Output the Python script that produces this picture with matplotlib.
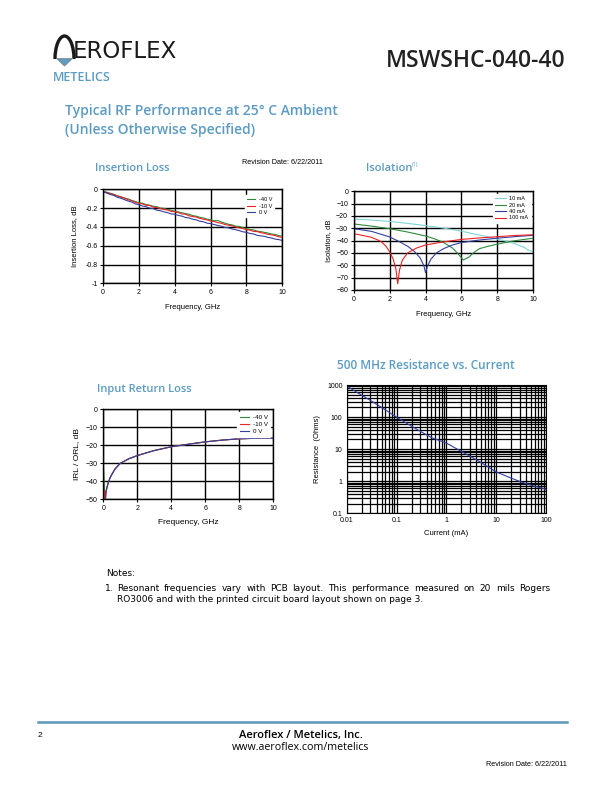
import matplotlib
matplotlib.use("Agg")
import matplotlib.pyplot as plt
from matplotlib.patches import Polygon, Arc
from matplotlib.ticker import NullFormatter

# ---- data ----
il_freq = [i * 0.2 for i in range(51)]
il_m40 = [-0.02, -0.03, -0.042, -0.052, -0.07, -0.078, -0.095, -0.102, -0.118, -0.13,
          -0.142, -0.148, -0.162, -0.168, -0.18, -0.185, -0.2, -0.203, -0.215, -0.222,
          -0.232, -0.24, -0.25, -0.258, -0.265, -0.28, -0.286, -0.298, -0.305, -0.318,
          -0.322, -0.335, -0.332, -0.348, -0.36, -0.372, -0.378, -0.392, -0.395, -0.408,
          -0.418, -0.428, -0.432, -0.445, -0.45, -0.458, -0.465, -0.475, -0.48, -0.492, -0.5]
il_m10 = [-0.025, -0.035, -0.045, -0.06, -0.068, -0.085, -0.092, -0.112, -0.12, -0.138,
          -0.15, -0.155, -0.17, -0.172, -0.19, -0.195, -0.205, -0.215, -0.22, -0.235,
          -0.24, -0.248, -0.262, -0.265, -0.282, -0.29, -0.295, -0.31, -0.318, -0.325,
          -0.338, -0.342, -0.355, -0.36, -0.375, -0.382, -0.39, -0.4, -0.41, -0.418,
          -0.43, -0.435, -0.448, -0.45, -0.462, -0.468, -0.48, -0.485, -0.492, -0.505, -0.51]
il_0v = [-0.025, -0.04, -0.055, -0.065, -0.085, -0.095, -0.11, -0.125, -0.135, -0.155,
         -0.165, -0.178, -0.185, -0.2, -0.205, -0.222, -0.228, -0.24, -0.248, -0.262,
         -0.265, -0.278, -0.285, -0.3, -0.305, -0.318, -0.325, -0.34, -0.345, -0.36,
         -0.365, -0.375, -0.385, -0.392, -0.405, -0.41, -0.422, -0.43, -0.44, -0.452,
         -0.458, -0.47, -0.475, -0.49, -0.495, -0.5, -0.512, -0.518, -0.53, -0.535, -0.545]

iso_f10 = [0, 1, 2, 3, 4, 5, 6, 7, 7.5, 8, 8.5, 9, 9.3, 9.5, 9.7, 10]
iso_10ma = [-22.5, -23.3, -24.4, -26, -27.8, -29.8, -32.3, -35.5, -37, -38.8, -40.5, -42.5,
            -44.5, -45.5, -47.5, -49]
iso_f20 = [0, 1, 2, 3, 4, 4.5, 5, 5.5, 5.8, 6.1, 6.4, 6.7, 7, 7.5, 8, 9, 10]
iso_20ma = [-26.5, -28.2, -30.3, -33, -36.2, -38.5, -41.5, -46, -50.5, -55.7, -53.5, -49.5,
            -46.5, -44.5, -42.8, -40, -38]
iso_f40 = [0, 1, 2, 2.5, 3, 3.4, 3.7, 3.9, 4.0, 4.1, 4.3, 4.6, 5, 5.5, 6, 7, 8, 9, 10]
iso_40ma = [-30.3, -32.5, -37, -40.5, -44.5, -49, -54, -60, -66, -61, -55, -50, -46.5, -43.5,
            -41.5, -39.5, -38, -36.7, -35.7]
iso_f100 = [0, 1, 1.5, 1.8, 2.0, 2.2, 2.35, 2.45, 2.55, 2.7, 3.0, 3.5, 4, 5, 6, 7, 8, 9, 10]
iso_100ma = [-34.3, -37.3, -40.5, -44.5, -49, -55, -63, -75, -64, -56, -50, -46, -43.5, -41,
             -39, -37.8, -36.8, -35.8, -35.2]

irl_f_m40 = [0.02, 0.05, 0.09, 0.12, 0.2, 0.3, 0.4, 0.5, 0.7, 1.0, 1.5, 2, 3, 4, 5, 6, 7, 8, 9, 10]
irl_m40 = [-33.5, -40, -47, -46.5, -44, -40.5, -38, -36.2, -33, -30, -27.5, -25.7, -22.9,
           -20.8, -19.4, -18.1, -17.1, -16.4, -16.1, -16]
irl_f_m10 = [0.04, 0.07, 0.1, 0.15, 0.2, 0.3, 0.4, 0.5, 0.7, 1.0, 1.5, 2, 3, 4, 5, 6, 7, 8, 9, 10]
irl_m10 = [-52, -45, -52, -46.5, -44, -40.5, -38, -36.2, -33, -30, -27.5, -25.7, -22.9,
           -20.8, -19.4, -18.1, -17.1, -16.4, -16.1, -16]
irl_f_0v = [0.12, 0.16, 0.2, 0.3, 0.4, 0.5, 0.7, 1.0, 1.5, 2, 3, 4, 5, 6, 7, 8, 9, 10]
irl_0v = [-52, -46.5, -44, -40.5, -38, -36.2, -33, -30, -27.5, -25.7, -22.9,
          -20.8, -19.4, -18.1, -17.1, -16.4, -16.1, -16]

res_current = [0.01, 0.02, 0.03, 0.05, 0.1, 0.2, 0.3, 0.5, 1, 2, 3, 5, 10, 20, 30, 50, 100]
res_ohms = [930, 480, 330, 200, 100, 52, 36, 23, 15.5, 8.5, 6, 3.8, 1.95, 1.25, 0.98, 0.75, 0.56]

bias_labels = ["-40 V", "-10 V", "0 V"]
iso_labels = ["10 mA", "20 mA", "40 mA", "100 mA"]

note_1 = ("Resonant frequencies vary with PCB layout.  This performance measured on 20 mils "
          "Rogers")
note_2 = "RO3006 and with the printed circuit board layout shown on page 3."

BLUE = "#5b9bc4"
GREEN = "#2e8b3a"
RED = "#ee2222"
NAVY = "#3340a0"
CYAN = "#7fd3d8"

W, H = 612, 792


def rect(left, top, right, bottom):
    # pixel box (from top-left) -> figure fraction
    return [left / W, 1 - bottom / H, (right - left) / W, (bottom - top) / H]


def style(ax, xlim, ylim, xticks, yticks):
    ax.set_xlim(*xlim)
    ax.set_ylim(*ylim)
    ax.set_xticks(xticks)
    ax.set_yticks(yticks)
    ax.grid(True, color="black", linewidth=1.0)
    ax.set_axisbelow(True)
    for s in ax.spines.values():
        s.set_linewidth(1.0)
    ax.tick_params(labelsize=5, length=2, width=0.8, pad=2)


def small_legend(ax, fs, hl, anchor):
    ax.legend(loc="upper right", fontsize=fs, frameon=True, fancybox=False,
              edgecolor="white", framealpha=1, handlelength=hl, borderpad=0.4,
              labelspacing=0.25, handletextpad=0.6, bbox_to_anchor=anchor)


plt.rcParams["font.family"] = ["Liberation Sans", "DejaVu Sans"]
fig = plt.figure(figsize=(W / 100, H / 100), dpi=100)

# page overlay in pixel units (y downwards)
ov = fig.add_axes([0, 0, 1, 1])
ov.set_xlim(0, W)
ov.set_ylim(H, 0)
ov.axis("off")

# ---- header / logo ----
ov.add_patch(Arc((64.5, 59), 19, 46, theta1=180, theta2=360, lw=2.4, color="#1a1a1a"))
ov.add_patch(Polygon([[56.5, 58.5], [72.5, 58.5], [64.5, 66]], closed=True,
                     facecolor="#5b9bc4", edgecolor="#888888", lw=0.6))
ov.text(73, 58.5, "EROFLEX", fontsize=16.5, fontfamily="DejaVu Sans", color="#1a1a1a",
        va="baseline", ha="left")
ov.text(52.5, 80.7, "METELICS", fontsize=9, fontfamily="Open Sans", color=BLUE,
        fontweight="semibold", va="baseline", ha="left")
ov.text(566, 67.3, "MSWSHC-040-40", fontsize=16.5, fontfamily="Open Sans",
        fontweight="semibold", color="#222222", va="baseline", ha="right")
ov.text(65, 115, "Typical RF Performance at 25° C Ambient", fontsize=10,
        fontfamily="Open Sans", fontweight="semibold", color=BLUE, va="baseline")
ov.text(65, 134, "(Unless Otherwise Specified)", fontsize=10,
        fontfamily="Open Sans", fontweight="semibold", color=BLUE, va="baseline")

# ---- insertion loss ----
ov.text(95, 171, "Insertion Loss", fontsize=8, fontfamily="Open Sans",
        fontweight="semibold", color=BLUE, va="baseline")
ov.text(242, 164, "Revision Date: 6/22/2011", fontsize=5.2, va="baseline")
ax1 = fig.add_axes(rect(103, 189.3, 282.3, 283.3))
ax1.plot(il_freq, il_m40, color=GREEN, lw=0.8, label=bias_labels[0])
ax1.plot(il_freq, il_m10, color=RED, lw=0.8, label=bias_labels[1])
ax1.plot(il_freq, il_0v, color=NAVY, lw=0.8, label=bias_labels[2])
style(ax1, (0, 10), (-1, 0), [0, 2, 4, 6, 8, 10], [-1, -0.8, -0.6, -0.4, -0.2, 0])
ax1.set_yticklabels(["-1", "-0.8", "-0.6", "-0.4", "-0.2", "0"])
ax1.set_xlabel("Frequency, GHz", fontsize=5.5, labelpad=6)
ax1.set_ylabel("Insertion Loss, dB", fontsize=5.5, labelpad=5)
small_legend(ax1, 4, 1.5, (0.97, 0.97))

# ---- isolation ----
ov.text(366, 171, "Isolation", fontsize=8, fontfamily="Open Sans",
        fontweight="semibold", color=BLUE, va="baseline")
ov.text(412, 166, "(1)", fontsize=4, fontfamily="Open Sans", color=BLUE, va="baseline")
ax2 = fig.add_axes(rect(353.7, 191.3, 533.3, 290))
ax2.plot(iso_f10, iso_10ma, color=CYAN, lw=0.8, label=iso_labels[0])
ax2.plot(iso_f20, iso_20ma, color=GREEN, lw=0.8, label=iso_labels[1])
ax2.plot(iso_f40, iso_40ma, color=NAVY, lw=0.8, label=iso_labels[2])
ax2.plot(iso_f100, iso_100ma, color=RED, lw=0.8, label=iso_labels[3])
style(ax2, (0, 10), (-80, 0), [0, 2, 4, 6, 8, 10], list(range(-80, 1, 10)))
ax2.set_xlabel("Frequency, GHz", fontsize=5.5, labelpad=6)
ax2.set_ylabel("Isolation, dB", fontsize=5.5, labelpad=3)
small_legend(ax2, 4, 2, (1.0, 1.0))

# ---- input return loss ----
ov.text(97, 392, "Input Return Loss", fontsize=8, fontfamily="Open Sans",
        fontweight="semibold", color=BLUE, va="baseline")
ax3 = fig.add_axes(rect(103.3, 409.3, 273.3, 499.3))
ax3.plot(irl_f_m40, irl_m40, color=GREEN, lw=0.8, label=bias_labels[0])
ax3.plot(irl_f_m10, irl_m10, color=RED, lw=0.8, label=bias_labels[1])
ax3.plot(irl_f_0v, irl_0v, color=NAVY, lw=0.8, label=bias_labels[2])
style(ax3, (0, 10), (-50, 0), [0, 2, 4, 6, 8, 10], list(range(-50, 1, 10)))
ax3.set_xlabel("Frequency, GHz", fontsize=6, labelpad=5)
ax3.set_ylabel("IRL / ORL, dB", fontsize=6, labelpad=4)
small_legend(ax3, 4.5, 1.5, (1.0, 1.0))

# ---- resistance vs current ----
ov.text(337, 369, "500 MHz Resistance vs. Current", fontsize=8.5,
        fontfamily="Open Sans", fontweight="semibold", color=BLUE, va="baseline")
ax4 = fig.add_axes(rect(346.7, 385, 546, 513.3))
ax4.loglog(res_current, res_ohms, color=NAVY, lw=0.8)
ax4.set_xlim(0.01, 100)
ax4.set_ylim(0.1, 1000)
ax4.set_xticks([0.01, 0.1, 1, 10, 100])
ax4.set_xticklabels(["0.01", "0.1", "1", "10", "100"])
ax4.set_yticks([0.1, 1, 10, 100, 1000])
ax4.set_yticklabels(["0.1", "1", "10", "100", "1000"])
ax4.xaxis.set_minor_formatter(NullFormatter())
ax4.yaxis.set_minor_formatter(NullFormatter())
ax4.grid(True, which="both", color="black", linewidth=0.9)
ax4.set_axisbelow(True)
ax4.tick_params(which="both", labelsize=5, length=0, pad=3)
ax4.set_xlabel("Current (mA)", fontsize=5.5, labelpad=4)
ax4.set_ylabel("Resistance  (Ohms)", fontsize=5.5, labelpad=4)

# ---- notes (first line justified to the right margin) ----
note_font = dict(fontsize=6.5, fontfamily="DejaVu Sans", va="baseline")
ov.text(106, 576.5, "Notes:", **note_font)
ov.text(105, 591, "1.", **note_font)
renderer = fig.canvas.get_renderer()
words = note_1.split()
wtexts = [ov.text(0, 591, w, **note_font) for w in words]
widths = [t.get_window_extent(renderer).width for t in wtexts]
gap = (550 - 117 - sum(widths)) / (len(words) - 1)
x = 117
for t, w in zip(wtexts, widths):
    t.set_x(x)
    x += w + gap
ov.text(117, 601.5, note_2, **note_font)

# ---- footer ----
ov.plot([38, 567], [721.7, 721.7], color="#5b96bb", lw=1.8)
ov.text(38, 737, "2", fontsize=6, va="baseline")
ov.text(300.5, 738, "Aeroflex / Metelics, Inc.", fontsize=8, fontfamily="Open Sans",
        fontweight="semibold", ha="center", va="baseline")
ov.text(301, 750, "www.aeroflex.com/metelics", fontsize=7.7, fontfamily="Open Sans",
        ha="center", va="baseline")
ov.text(567, 766, "Revision Date: 6/22/2011", fontsize=5.2, ha="right", va="baseline")

fig.savefig("out.png", dpi=100)
